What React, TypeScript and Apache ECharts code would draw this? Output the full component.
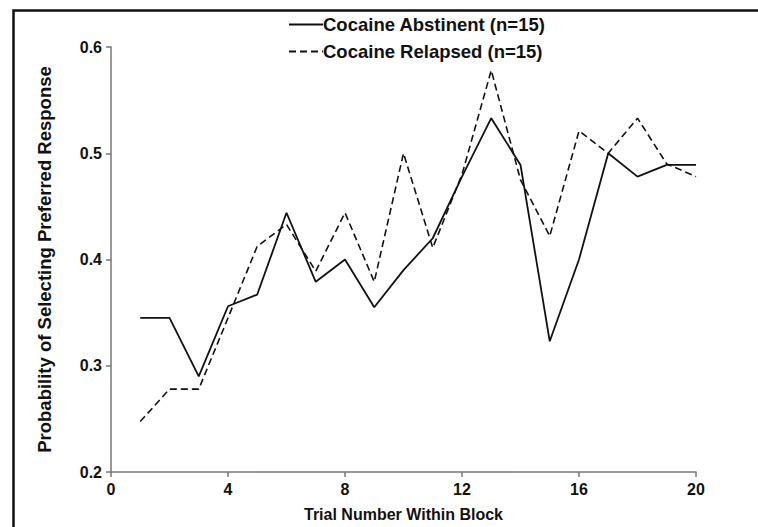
import React, { useEffect, useRef } from "react";
import * as echarts from "echarts";

const trials = [1, 2, 3, 4, 5, 6, 7, 8, 9, 10, 11, 12, 13, 14, 15, 16, 17, 18, 19, 20];
const abstinent = [0.345, 0.345, 0.29, 0.356, 0.367, 0.444, 0.379, 0.4, 0.355, 0.39, 0.42, 0.478, 0.533, 0.489, 0.323, 0.4, 0.5, 0.478, 0.489, 0.489];
const relapsed = [0.2475, 0.278, 0.278, 0.345, 0.4125, 0.433, 0.389, 0.444, 0.379, 0.5, 0.411, 0.48, 0.578, 0.475, 0.422, 0.521, 0.5, 0.533, 0.49, 0.478];
const seriesNames = ["Cocaine Abstinent (n=15)", "Cocaine Relapsed (n=15)"];
const xTitle = "Trial Number Within Block";
const yTitle = "Probability of Selecting Preferred Response";

export default function App() {
  const ref = useRef<HTMLDivElement>(null);
  useEffect(() => {
    if (!ref.current) return;
    const chart = echarts.init(ref.current, null, { renderer: "svg" });
    const font = "'Liberation Sans', Arial, sans-serif";
    const axisLine = { show: true, lineStyle: { color: "#777", width: 1.5 } };
    chart.setOption({
      animation: false,
      backgroundColor: "#fff",
      textStyle: { fontFamily: font },
      grid: { left: 111, right: 62, top: 47, bottom: 54, containLabel: false },
      legend: {
        orient: "vertical",
        left: 283,
        top: 10,
        itemWidth: 34,
        itemHeight: 12,
        itemGap: 8,
        data: seriesNames,
        itemStyle: { color: "transparent", borderColor: "transparent", borderWidth: 0 },
        textStyle: { fontFamily: font, fontWeight: "bold", fontSize: 18.5, color: "#111", padding: [0, 0, 0, -5] },
      },
      xAxis: {
        type: "value",
        min: 0,
        max: 20,
        interval: 4,
        name: xTitle,
        nameLocation: "middle",
        nameGap: 34,
        nameTextStyle: { fontFamily: font, fontWeight: "bold", fontSize: 16, color: "#111" },
        axisLine,
        axisTick: { show: true, length: 5, lineStyle: { color: "#777", width: 1.5 } },
        axisLabel: { fontFamily: font, fontWeight: "bold", fontSize: 16, color: "#111", margin: 9 },
        splitLine: { show: false },
      },
      yAxis: {
        type: "value",
        min: 0.2,
        max: 0.6,
        interval: 0.1,
        name: yTitle,
        nameLocation: "middle",
        nameGap: 57,
        nameRotate: 90,
        nameTextStyle: { fontFamily: font, fontWeight: "bold", fontSize: 18.5, color: "#111" },
        axisLine,
        axisTick: { show: true, length: 5, lineStyle: { color: "#777", width: 1.5 } },
        axisLabel: { fontFamily: font, fontWeight: "bold", fontSize: 16, color: "#111", margin: 9, formatter: (v: number) => v.toFixed(1) },
        splitLine: { show: false },
      },
      series: [
        {
          name: seriesNames[0],
          type: "line",
          data: trials.map((t, i) => [t, abstinent[i]]),
          symbol: "none",
          lineStyle: { color: "#111", width: 1.8, type: "solid" },
          itemStyle: { color: "#111" },
        },
        {
          name: seriesNames[1],
          type: "line",
          data: trials.map((t, i) => [t, relapsed[i]]),
          symbol: "none",
          lineStyle: { color: "#111", width: 1.6, type: [7, 4] },
          itemStyle: { color: "#111" },
        },
      ],
      graphic: [
        {
          type: "rect",
          left: 11,
          top: 8,
          shape: { width: 900, height: 700 },
          style: { fill: "none", stroke: "#111", lineWidth: 2.5 },
          silent: true,
        },
      ],
    });
    return () => chart.dispose();
  }, []);
  return <div ref={ref} style={{ width: 758, height: 527, position: "absolute", left: 0, top: 0 }} />;
}
